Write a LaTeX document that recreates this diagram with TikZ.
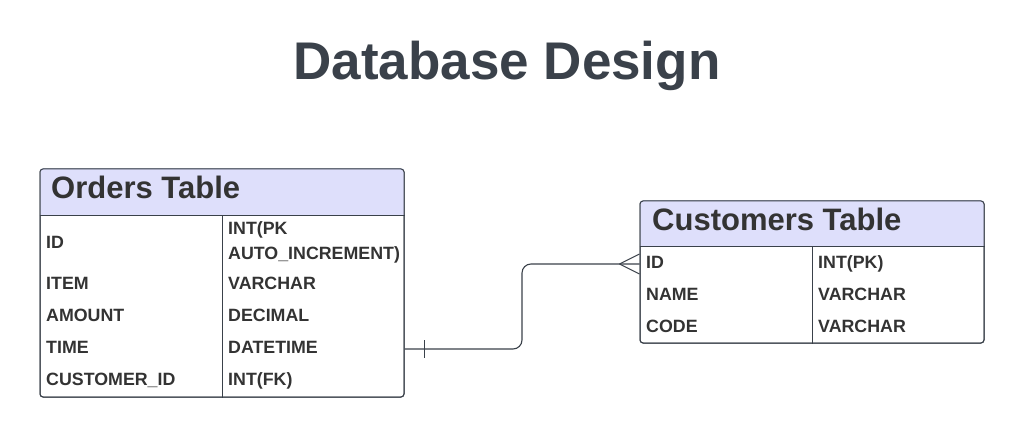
\documentclass[tikz,border=0pt]{standalone}
\usepackage{fontspec}
\setmainfont{Liberation Sans}
\usepackage{tikz}
\usetikzlibrary{calc}
\definecolor{inkgray}{RGB}{58, 65, 74}
\definecolor{cellgray}{RGB}{51, 51, 51}
\definecolor{headbox}{RGB}{222, 223, 251}

\begin{document}
\begin{tikzpicture}[
    x=1pt, y=-1pt,
    tbl/.style={rectangle, draw=inkgray, line width=1pt, rounded corners=3pt, inner sep=0pt},
    title/.style={font=\fontsize{53}{60}\selectfont\bfseries, text=inkgray},
    head/.style={anchor=base west, inner sep=0pt, font=\fontsize{31}{35}\selectfont\bfseries, text=cellgray},
    cell/.style={anchor=base west, inner sep=0pt, font=\fontsize{17.8}{21}\selectfont\bfseries, text=cellgray},
    rule/.style={draw=inkgray, line width=1pt},
    conn/.style={draw=inkgray, line width=1.1pt, rounded corners=9pt}
]
    \useasboundingbox (0,0) rectangle (1024,438);

    \node[title] (heading) at (507,66) {Database Design};

    % orders table
    \node[tbl, minimum width=364pt, minimum height=228pt] (orders) at (222,283) {};
    \begin{scope}
        \clip[rounded corners=3pt] (orders.north west) rectangle (orders.south east);
        \fill[headbox] (orders.north west) rectangle ($(orders.north east)+(0,47)$);
    \end{scope}
    \node[tbl, minimum width=364pt, minimum height=228pt] at (orders) {};
    \draw[rule] ($(orders.north west)+(0,47)$) -- ($(orders.north east)+(0,47)$);
    \draw[rule] (222,216) -- (orders.south -| 222,0);
    \node[head] (ordershead) at (51,199) {Orders Table};

    \node[cell] (oid) at (46,248) {ID};
    \node[cell] (oitem) at (46,289) {ITEM};
    \node[cell] (oamount) at (46,321) {AMOUNT};
    \node[cell] (otime) at (46,353) {TIME};
    \node[cell] (ocust) at (46,385) {CUSTOMER\_ID};
    \node[cell] (oidtype) at (228,235) {INT(PK};
    \node[cell] (oidtype2) at (228,259) {AUTO\_INCREMENT)};
    \node[cell] (oitemtype) at (228,289) {VARCHAR};
    \node[cell] (oamounttype) at (228,321) {DECIMAL};
    \node[cell] (otimetype) at (228,353) {DATETIME};
    \node[cell] (ocusttype) at (228,385) {INT(FK)};

    % customers table
    \node[tbl, minimum width=344pt, minimum height=142pt] (customers) at (812,272) {};
    \begin{scope}
        \clip[rounded corners=3pt] (customers.north west) rectangle (customers.south east);
        \fill[headbox] (customers.north west) rectangle ($(customers.north east)+(0,46)$);
    \end{scope}
    \node[tbl, minimum width=344pt, minimum height=142pt] at (customers) {};
    \draw[rule] ($(customers.north west)+(0,46)$) -- ($(customers.north east)+(0,46)$);
    \draw[rule] (812,247) -- (customers.south -| 812,0);
    \node[head] (custhead) at (652,230) {Customers Table};

    \node[cell] (cid) at (646,268) {ID};
    \node[cell] (cname) at (646,300) {NAME};
    \node[cell] (ccode) at (646,332) {CODE};
    \node[cell] (cidtype) at (818,268) {INT(PK)};
    \node[cell] (cnametype) at (818,300) {VARCHAR};
    \node[cell] (ccodetype) at (818,332) {VARCHAR};

    % relation
    \coordinate (ofk) at (orders.east |- 0,349);
    \coordinate (cpk) at (customers.west |- 0,264);
    \draw[conn] (ofk) -- (522,349) -- (522,264) -- (cpk);
    \draw[rule] ($(ofk)+(20,-9)$) -- ($(ofk)+(20,9)$);
    \draw[rule] ($(cpk)+(-20,0)$) -- ($(cpk)+(0,-10)$);
    \draw[rule] ($(cpk)+(-20,0)$) -- ($(cpk)+(0,10)$);
\end{tikzpicture}
\end{document}
